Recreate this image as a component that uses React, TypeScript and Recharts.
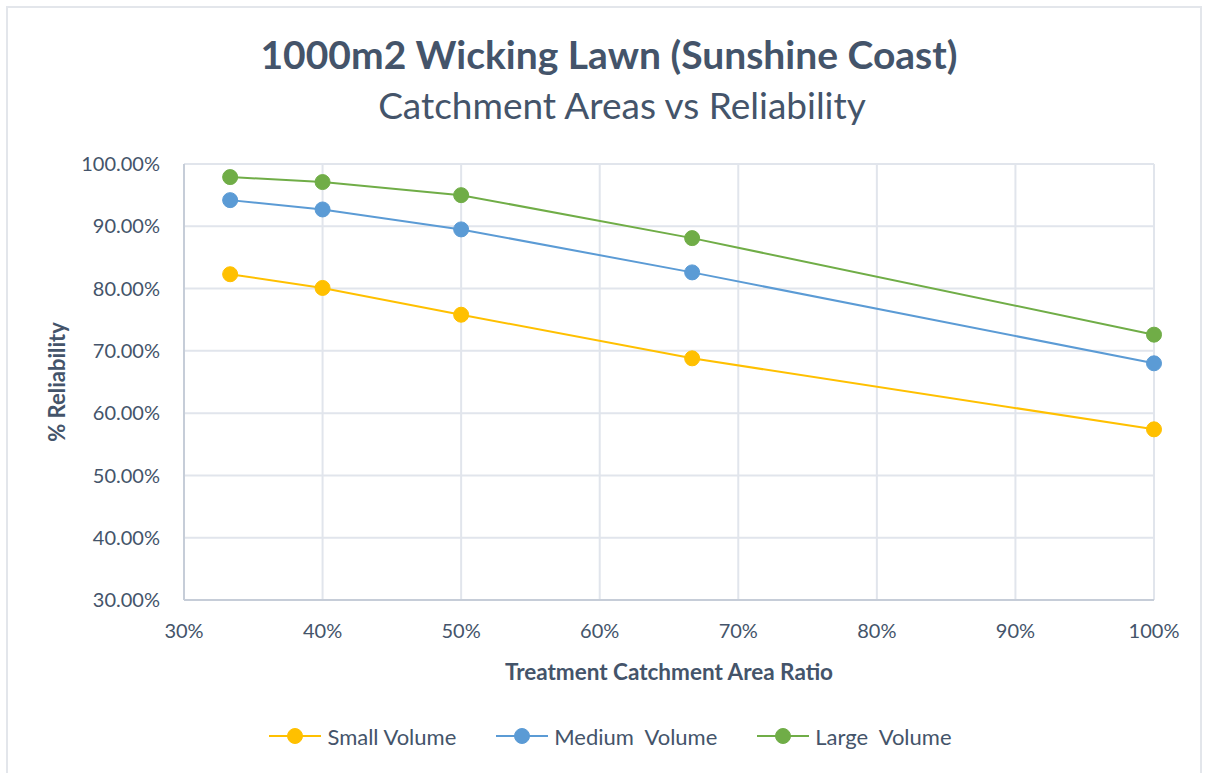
import React from "react";
import { LineChart, Line, XAxis, YAxis, CartesianGrid } from "recharts";

const ratios = [33.33, 40, 50, 66.67, 100];
const smallVolume = [82.3, 80.1, 75.8, 68.8, 57.4];
const mediumVolume = [94.2, 92.7, 89.5, 82.6, 68.0];
const largeVolume = [97.9, 97.1, 95.0, 88.1, 72.6];
const xTicks = [30, 40, 50, 60, 70, 80, 90, 100];
const yTicks = [30, 40, 50, 60, 70, 80, 90, 100];
const seriesNames = ["Small Volume", "Medium  Volume", "Large  Volume"];

const TEXT = "#44546A";
const FONT = "Lato, 'Open Sans', sans-serif";
const COLORS = ["#FFC000", "#5B9BD5", "#70AD47"];

const data = ratios.map((r, i) => ({
  ratio: r,
  small: smallVolume[i],
  medium: mediumVolume[i],
  large: largeVolume[i],
}));

const LegendBlock = () => (
  <div
    style={{
      position: "absolute",
      left: 0,
      top: 722,
      width: 1205,
      height: 28,
      display: "flex",
      justifyContent: "center",
      alignItems: "center",
      fontFamily: FONT,
      fontSize: 22,
      color: TEXT,
      paddingLeft: 16,
      boxSizing: "border-box",
    }}
  >
    {seriesNames.map((n, i) => (
      <div key={n} style={{ display: "flex", alignItems: "center", marginRight: i < 2 ? 40 : 0 }}>
        <svg width={52} height={18} style={{ marginRight: 6 }}>
          <line x1={0} y1={9} x2={52} y2={9} stroke={COLORS[i]} strokeWidth={2} />
          <circle cx={26} cy={9} r={7.5} fill={COLORS[i]} stroke={COLORS[i]} />
        </svg>
        <span style={{ whiteSpace: "pre" }}>{n}</span>
      </div>
    ))}
  </div>
);

export default function App() {
  return (
    <div
      style={{
        position: "absolute",
        left: 0,
        top: 0,
        width: 1205,
        height: 773,
        overflow: "hidden",
        background: "#fff",
      }}
    >
      <div
        style={{
          position: "absolute",
          left: 6,
          top: 6,
          width: 1196,
          height: 800,
          border: "2px solid #E3E6EB",
          boxSizing: "border-box",
        }}
      />
      <svg
        width={1205}
        height={140}
        style={{ position: "absolute", left: 0, top: 0 }}
      >
        <text
          x={609}
          y={69}
          textAnchor="middle"
          fontFamily={FONT}
          fontWeight={700}
          fontSize={39}
          fill={TEXT}
        >
          1000m2 Wicking Lawn (Sunshine Coast)
        </text>
        <text
          x={622}
          y={119}
          textAnchor="middle"
          fontFamily={FONT}
          fontSize={37}
          fill={TEXT}
        >
          Catchment Areas vs Reliability
        </text>
      </svg>
      <div style={{ position: "absolute", left: 0, top: 0 }}>
        <LineChart
          width={1205}
          height={773}
          data={data}
          margin={{ top: 164, right: 51, bottom: 143, left: 0 }}
        >
          <CartesianGrid stroke="#E1E5EC" strokeWidth={2} horizontal vertical />
          <XAxis
            dataKey="ratio"
            type="number"
            domain={[30, 100]}
            ticks={xTicks}
            tickFormatter={(v: number) => `${v}%`}
            axisLine={{ stroke: "#C6CDD8", strokeWidth: 2 }}
            tickLine={false}
            tickMargin={18}
            height={30}
            tick={{ fill: TEXT, fontSize: 20, fontFamily: FONT }}
            label={{
              value: "Treatment Catchment Area Ratio",
              position: "insideBottom",
              offset: -50,
              fill: TEXT,
              fontSize: 22.5,
              fontWeight: 700,
              fontFamily: FONT,
            }}
          />
          <YAxis
            type="number"
            domain={[30, 100]}
            ticks={yTicks}
            tickFormatter={(v: number) => `${v.toFixed(2)}%`}
            axisLine={{ stroke: "#C6CDD8", strokeWidth: 2 }}
            tickLine={false}
            tickMargin={18}
            width={184}
            tick={{ fill: TEXT, fontSize: 20, fontFamily: FONT }}
            label={{
              value: "% Reliability",
              angle: -90,
              position: "insideLeft",
              offset: 57,
              fill: TEXT,
              fontSize: 22,
              fontWeight: 700,
              fontFamily: FONT,
              style: { textAnchor: "middle" },
            }}
          />
          <Line
            dataKey="small"
            name={seriesNames[0]}
            stroke={COLORS[0]}
            strokeWidth={2}
            dot={{ r: 7.5, fill: COLORS[0], stroke: COLORS[0], strokeWidth: 1 }}
            isAnimationActive={false}
          />
          <Line
            dataKey="medium"
            name={seriesNames[1]}
            stroke={COLORS[1]}
            strokeWidth={2}
            dot={{ r: 7.5, fill: COLORS[1], stroke: COLORS[1], strokeWidth: 1 }}
            isAnimationActive={false}
          />
          <Line
            dataKey="large"
            name={seriesNames[2]}
            stroke={COLORS[2]}
            strokeWidth={2}
            dot={{ r: 7.5, fill: COLORS[2], stroke: COLORS[2], strokeWidth: 1 }}
            isAnimationActive={false}
          />
        </LineChart>
      </div>
      <LegendBlock />
    </div>
  );
}
